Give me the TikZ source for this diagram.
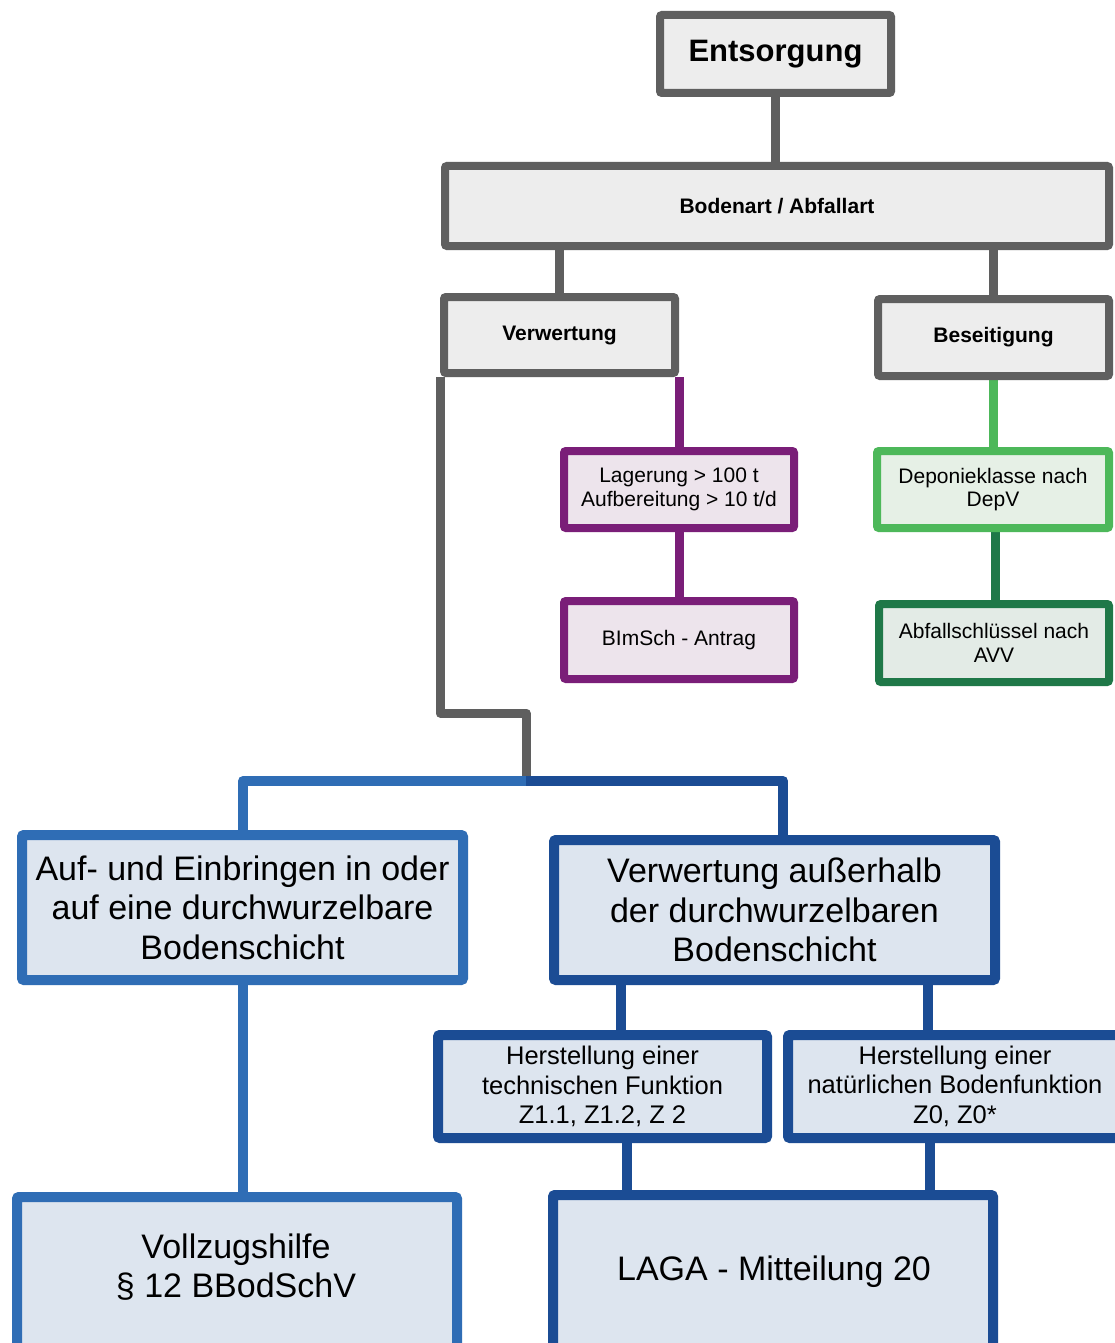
\documentclass[tikz,border=0pt]{standalone}
\usepackage{fontspec}
\setmainfont{Liberation Sans}
\usetikzlibrary{backgrounds,calc}
\definecolor{grayb}{HTML}{5F5F5F}
\definecolor{grayf}{HTML}{EDEDED}
\definecolor{purb}{HTML}{7A1E78}
\definecolor{purf}{HTML}{EDE4EC}
\definecolor{lgrb}{HTML}{4DB85A}
\definecolor{lgrf}{HTML}{E6F0E6}
\definecolor{dgrb}{HTML}{1F7848}
\definecolor{dgrf}{HTML}{E3EBE6}
\definecolor{lblb}{HTML}{2F6DB5}
\definecolor{dblb}{HTML}{1B4C94}
\definecolor{blf}{HTML}{DDE5EF}
\begin{document}
\begin{tikzpicture}[x=1pt,y=-1pt,
  box/.style={draw, rounded corners=2pt, align=center, inner sep=0pt, line width=8pt},
  graybox/.style={box, draw=grayb, fill=grayf, font=\bfseries\fontsize{21}{24}\selectfont},
  purbox/.style={box, draw=purb, fill=purf, font=\fontsize{21}{23.5}\selectfont},
  lgrbox/.style={box, draw=lgrb, fill=lgrf, font=\fontsize{21}{23.5}\selectfont},
  dgrbox/.style={box, draw=dgrb, fill=dgrf, font=\fontsize{21}{23.5}\selectfont},
  lblbox/.style={box, line width=10pt, draw=lblb, fill=blf, font=\fontsize{34}{39.5}\selectfont},
  dblbox/.style={box, line width=10pt, draw=dblb, fill=blf, font=\fontsize{34}{39.5}\selectfont},
  plaintext/.style={align=center, inner sep=0pt},
  grayconn/.style={line width=9pt, draw=grayb, line join=round},
  purconn/.style={line width=9pt, draw=purb},
  lgrconn/.style={line width=9pt, draw=lgrb},
  dgrconn/.style={line width=9pt, draw=dgrb},
  lblconn/.style={line width=10pt, draw=lblb, line join=round},
  dblconn/.style={line width=10pt, draw=dblb, line join=round}
]
\useasboundingbox (0,0) rectangle (1115,1343);

\node[graybox, minimum width=231pt, minimum height=78pt, font=\bfseries\fontsize{31}{36}\selectfont] (ents) at (775.5,54) {Entsorgung};
\node[graybox, minimum width=664pt, minimum height=80pt] (boden) at (777,206) {Bodenart / Abfallart};
\node[graybox, minimum width=231pt, minimum height=76pt] (verw) at (559.5,335) {Verwertung};
\node[graybox, minimum width=231pt, minimum height=77pt] (bes) at (993.5,337.5) {Beseitigung};

\node[purbox, minimum width=230pt, minimum height=77pt] (lag) at (679,489.5) {Lagerung > 100 t\\Aufbereitung > 10 t/d};
\node[purbox, minimum width=230pt, minimum height=78pt] (bim) at (679,640) {BImSch - Antrag};

\node[lgrbox, minimum width=232pt, minimum height=77pt] (dep) at (993,489.5) {Deponieklasse nach\\DepV};
\node[dgrbox, minimum width=230pt, minimum height=78pt] (abf) at (994,643) {Abfallschlüssel nach\\AVV};

\node[lblbox, minimum width=441pt, minimum height=145pt] (auf) at (242.5,907.5) {Auf- und Einbringen in oder\\auf eine durchwurzelbare\\Bodenschicht};
\node[dblbox, minimum width=441pt, minimum height=140pt] (aus) at (774.5,910) {Verwertung außerhalb\\der durchwurzelbaren\\Bodenschicht};

\node[dblbox, minimum width=329pt, minimum height=103pt, font=\fontsize{25.5}{29.5}\selectfont] (tech) at (602.5,1086.5) {Herstellung einer\\technischen Funktion\\Z1.1, Z1.2, Z 2};
\node[dblbox, minimum width=332pt, minimum height=103pt, font=\fontsize{25.5}{29.5}\selectfont] (nat) at (954,1086.5) {};
\node[plaintext, font=\fontsize{25.5}{29.5}\selectfont] (nattext) at (955,1086) {Herstellung einer\\natürlichen Bodenfunktion\\Z0, Z0*};

\node[lblbox, minimum width=440pt, minimum height=206pt] (voll) at (237,1300) {};
\node[plaintext, font=\fontsize{34}{39.5}\selectfont] (volltext) at (236,1267) {Vollzugshilfe\\§ 12 BBodSchV};
\node[dblbox, minimum width=440pt, minimum height=210pt] (laga) at (773,1300) {};
\node[plaintext, font=\fontsize{34}{39.5}\selectfont] (lagatext) at (774,1272) {LAGA - Mitteilung 20};

\coordinate (g1) at (444,713);
\coordinate (g2) at (526,713);
\coordinate (jn) at (526,781);
\coordinate (bl) at (243,781);
\coordinate (br) at (783,781);

\begin{scope}[on background layer]
\fill[white] (0,0) rectangle (1115,1343);
\draw[grayconn] (ents.south) -- (ents.south |- boden.north);
\draw[grayconn] (verw.north |- boden.south) -- (verw.north);
\draw[grayconn] (bes.north |- boden.south) -- (bes.north);
\draw[grayconn] (verw.south west) -- (verw.south west |- g1) -- (g2) -- (jn);

\draw[purconn] (verw.south east) -- (verw.south east |- lag.north);
\draw[purconn] (verw.east |- lag.south) -- (verw.east |- bim.north);

\draw[lgrconn] (bes.south) -- (bes.south |- dep.north);
\draw[dgrconn] (995,0 |- dep.south) -- (995,0 |- abf.north);

\draw[lblconn] (bl |- auf.north) -- (bl) -- (jn);
\draw[dblconn] (jn) -- (br) -- (br |- aus.north);

\draw[lblconn] (bl |- auf.south) -- (bl |- voll.north);
\draw[dblconn] (621,0 |- aus.south) -- (621,0 |- tech.north);
\draw[dblconn] (928,0 |- aus.south) -- (928,0 |- nat.north);
\draw[dblconn] (627,0 |- tech.south) -- (627,0 |- laga.north);
\draw[dblconn] (930,0 |- nat.south) -- (930,0 |- laga.north);
\end{scope}
\end{tikzpicture}
\end{document}
